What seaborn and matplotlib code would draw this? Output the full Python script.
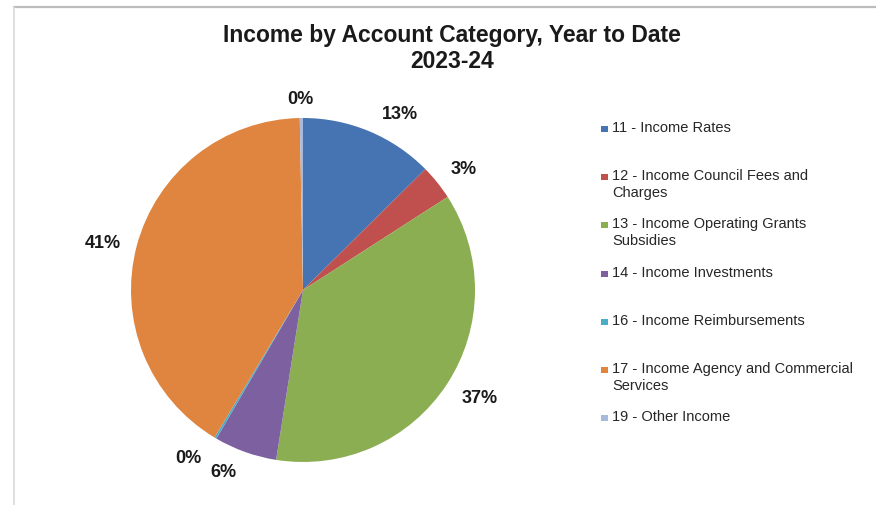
import textwrap

import matplotlib
matplotlib.use("Agg")
import matplotlib.pyplot as plt
from matplotlib.lines import Line2D
from matplotlib.patches import Rectangle
import seaborn as sns

# Income by account category, share of year-to-date total (%)
categories = [
    "11 - Income Rates",
    "12 - Income Council Fees and Charges",
    "13 - Income Operating Grants Subsidies",
    "14 - Income Investments",
    "16 - Income Reimbursements",
    "17 - Income Agency and Commercial Services",
    "19 - Other Income",
]
shares = [12.6, 3.3, 36.6, 5.9, 0.2, 41.1, 0.3]
colors = ["#4674B2", "#C0504D", "#8CAE52", "#7D60A0", "#4BACC6", "#E0853F", "#A7BADB"]

title_lines = ["Income by Account Category, Year to Date", "2023-24"]

# small nudges (px, right / down) so the percentage labels clear each other
label_nudges = [(19, 12), (2, 6), (7, -2), (-11, -9), (-11, -6), (-4, 6), (-1, 12)]

sns.set_theme(style="white")
plt.rcParams["font.family"] = ["Liberation Sans", "DejaVu Sans"]

W, H = 876, 505
fig = plt.figure(figsize=(W / 100, H / 100), dpi=100)
fig.patch.set_facecolor("white")

# pie axes: centre (303, 290) px from top-left, radius 172 px
cx, cy, r = 303, 290, 172
ax = fig.add_axes([(cx - r) / W, (H - cy - r) / H, 2 * r / W, 2 * r / H])
wedges, texts, autotexts = ax.pie(
    shares,
    colors=colors,
    startangle=90,
    counterclock=False,
    autopct="%.0f%%",
    pctdistance=1.18,
    radius=1.0,
    wedgeprops=dict(linewidth=0),
    textprops=dict(fontsize=13, fontweight="bold", color="#1a1a1a"),
)
for t, (dx, dy) in zip(autotexts, label_nudges):
    x0, y0 = t.get_position()
    t.set_position((x0 + dx / r, y0 - dy / r))
ax.set_xlim(-1, 1)
ax.set_ylim(-1, 1)
ax.set_aspect("equal")
ax.axis("off")

# title
fig.text(452 / W, 1 - 48.5 / H, "\n".join(title_lines), ha="center", va="center",
         fontsize=16.5, fontweight="bold", color="#1a1a1a", linespacing=1.18)

# legend: one entry every 48 px, marker aligned with the first text line
first_line_y = 129
step = 48.2
for i, (name, col) in enumerate(zip(categories, colors)):
    yc = first_line_y + i * step
    fig.patches.append(Rectangle((601 / W, 1 - (yc + 3) / H), 6.5 / W, 6 / H,
                                 transform=fig.transFigure, facecolor=col,
                                 edgecolor="none"))
    fig.text(612 / W, 1 - (yc - 8) / H, textwrap.fill(name, width=33),
             ha="left", va="top", fontsize=10.5, color="#262626", linespacing=1.25)

# thin frame lines at the top and left
fig.add_artist(Line2D([14 / W, 1], [1 - 7 / H, 1 - 7 / H], transform=fig.transFigure,
                      color="#BDBDBD", linewidth=1.6))
fig.add_artist(Line2D([14 / W, 14 / W], [0, 1 - 7 / H], transform=fig.transFigure,
                      color="#D9D9D9", linewidth=1.2))

fig.savefig("out.png", dpi=100)
